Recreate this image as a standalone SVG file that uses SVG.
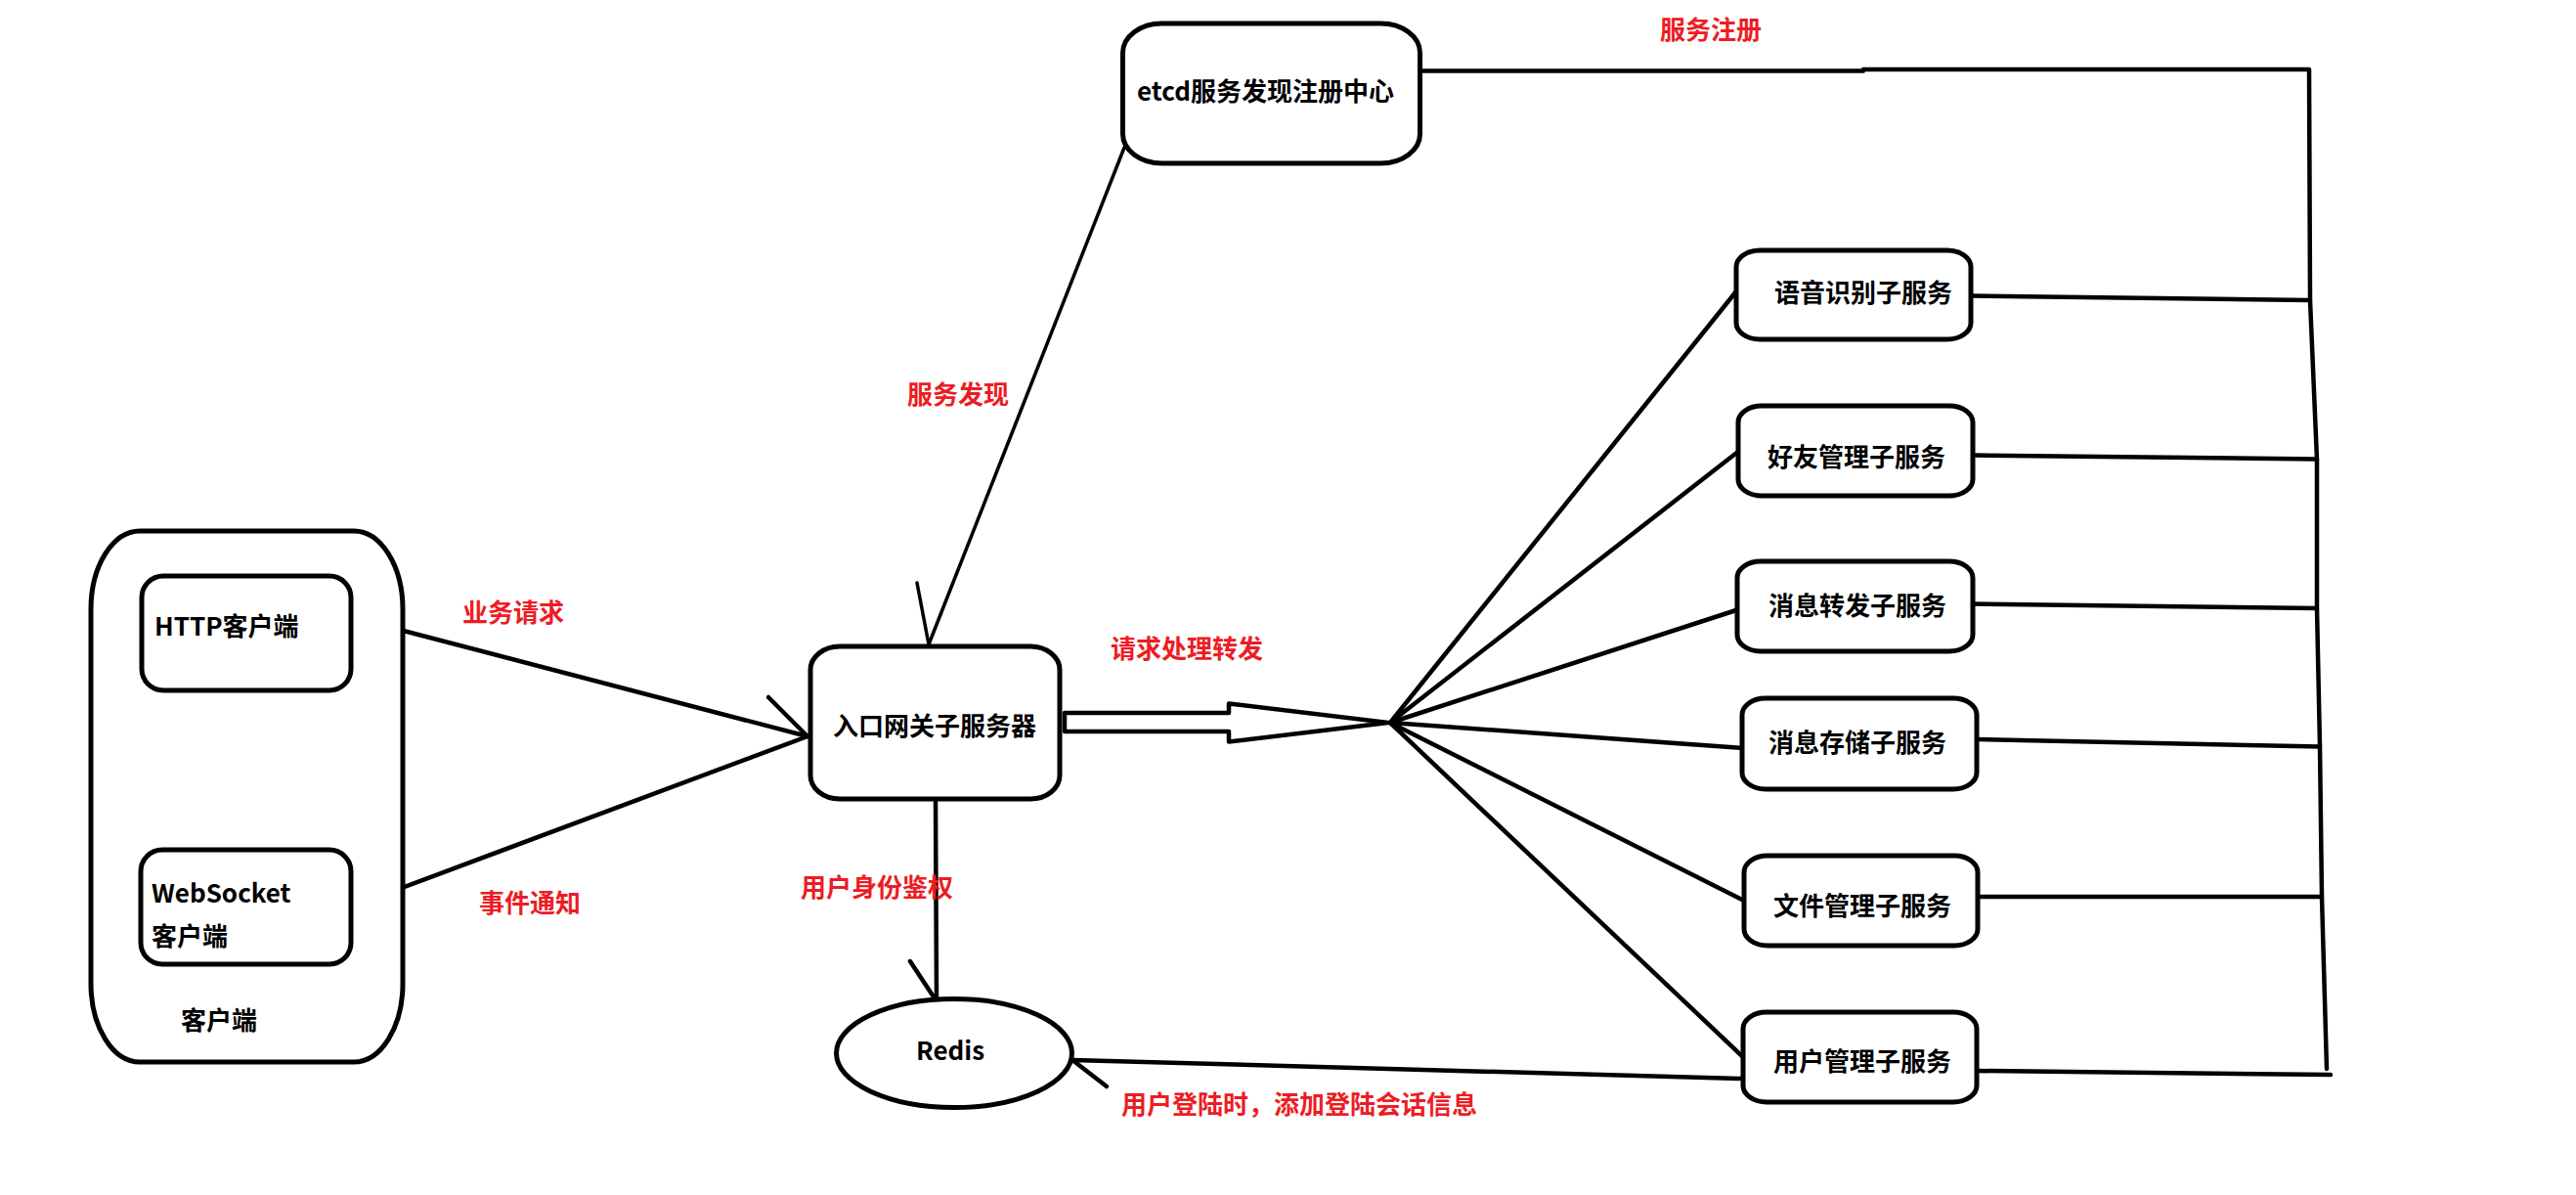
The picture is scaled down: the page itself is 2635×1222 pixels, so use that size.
<svg xmlns="http://www.w3.org/2000/svg" width="2635" height="1222" viewBox="0 0 2635 1222">
<style>
.box{fill:#fff;stroke:#000;stroke-width:5}
.ln{fill:none;stroke:#000;stroke-width:4.5;stroke-linecap:round;stroke-linejoin:round}
.thin{fill:none;stroke:#000;stroke-width:3.5;stroke-linecap:round}
.t{font-family:"Noto Sans CJK SC","Microsoft YaHei",sans-serif;font-weight:bold;font-size:26px;fill:#000}
.r{font-family:"Noto Sans CJK SC","Microsoft YaHei",sans-serif;font-weight:bold;font-size:26px;fill:#ed1c24}
</style>
<rect width="2635" height="1222" fill="#fff"/>
<g id="connectors">
<line class="ln" x1="359" y1="631" x2="826" y2="753"/>
<line class="ln" x1="786" y1="713" x2="826" y2="753"/>
<line class="ln" x1="360" y1="927" x2="826" y2="753"/>
<line class="ln" x1="360" y1="929" x2="410" y2="936"/>
<line class="thin" x1="1150" y1="151" x2="950" y2="659"/>
<line class="thin" x1="938" y1="596" x2="950" y2="659"/>
<polyline class="ln" points="957,818 958,1024"/>
<line class="ln" x1="931" y1="983" x2="958" y2="1024"/>
<line class="ln" x1="1097" y1="1084" x2="1783" y2="1103"/>
<line class="ln" x1="1097" y1="1084" x2="1132" y2="1111"/>
<polygon class="ln" points="1089,729 1257,729 1257,719.5 1420,739 1257,758.5 1257,748 1089,748"/>
<line class="ln" x1="1422" y1="739" x2="1776" y2="298"/>
<line class="ln" x1="1422" y1="739" x2="1779" y2="461"/>
<line class="ln" x1="1422" y1="739" x2="1779" y2="623"/>
<line class="ln" x1="1422" y1="739" x2="1782" y2="765"/>
<line class="ln" x1="1422" y1="739" x2="1784" y2="921"/>
<line class="ln" x1="1422" y1="739" x2="1783" y2="1081"/>
<polyline class="ln" points="1453,72.5 1906,72.5 1906,71 2362,71 2363,307 2370,470 2370,622 2373,763 2375,917 2380,1093"/>
<line class="ln" x1="2016" y1="302.5" x2="2363" y2="307"/>
<line class="ln" x1="2018" y1="465.5" x2="2370" y2="469.5"/>
<line class="ln" x1="2018" y1="617.5" x2="2370" y2="622"/>
<line class="ln" x1="2022" y1="756" x2="2373" y2="763.5"/>
<line class="ln" x1="2023" y1="917" x2="2375" y2="917"/>
<line class="ln" x1="2022" y1="1095" x2="2384" y2="1099"/>
</g>
<g id="client-group">
<rect class="box" x="93" y="543" width="319" height="543" rx="50" ry="80"/>
<text class="t" x="185" y="1053">客户端</text>
</g>
<g id="http-client">
<rect class="box" x="145" y="589" width="214" height="117" rx="22" ry="22"/>
<text class="t" x="158" y="650">HTTP客户端</text>
</g>
<g id="ws-client">
<rect class="box" x="144" y="869" width="215" height="117" rx="22" ry="22"/>
<text class="t" x="155" y="923">WebSocket</text>
<text class="t" x="155" y="967">客户端</text>
</g>
<g id="gateway">
<rect class="box" x="829" y="661" width="255" height="156" rx="30" ry="24"/>
<text class="t" x="852" y="752">入口网关子服务器</text>
</g>
<g id="etcd">
<rect class="box" x="1148.5" y="24" width="304" height="143" rx="40" ry="30"/>
<text class="t" x="1163" y="103">etcd服务发现注册中心</text>
</g>
<g id="redis">
<ellipse class="box" cx="976" cy="1077" rx="120.5" ry="55.5"/>
<text class="t" x="937" y="1084">Redis</text>
</g>
<g id="svc-speech">
<rect class="box" x="1776" y="256" width="240" height="91" rx="24" ry="17"/>
<text class="t" x="1815" y="309">语音识别子服务</text>
</g>
<g id="svc-friend">
<rect class="box" x="1778" y="415" width="240" height="92" rx="24" ry="17"/>
<text class="t" x="1808" y="477">好友管理子服务</text>
</g>
<g id="svc-msgfwd">
<rect class="box" x="1777" y="574" width="241" height="92" rx="24" ry="17"/>
<text class="t" x="1809" y="629">消息转发子服务</text>
</g>
<g id="svc-msgstore">
<rect class="box" x="1782" y="714" width="240" height="93" rx="24" ry="17"/>
<text class="t" x="1809" y="769">消息存储子服务</text>
</g>
<g id="svc-file">
<rect class="box" x="1784" y="875" width="239" height="92" rx="24" ry="17"/>
<text class="t" x="1814" y="936">文件管理子服务</text>
</g>
<g id="svc-user">
<rect class="box" x="1783" y="1035" width="239" height="92" rx="24" ry="17"/>
<text class="t" x="1814" y="1095">用户管理子服务</text>
</g>
<g id="labels">
<text class="r" x="1698" y="40">服务注册</text>
<text class="r" x="928" y="413">服务发现</text>
<text class="r" x="473" y="636">业务请求</text>
<text class="r" x="490" y="933">事件通知</text>
<text class="r" x="1136" y="673">请求处理转发</text>
<text class="r" x="819" y="917">用户身份鉴权</text>
<text class="r" x="1147" y="1139">用户登陆时，添加登陆会话信息</text>
</g>
</svg>
